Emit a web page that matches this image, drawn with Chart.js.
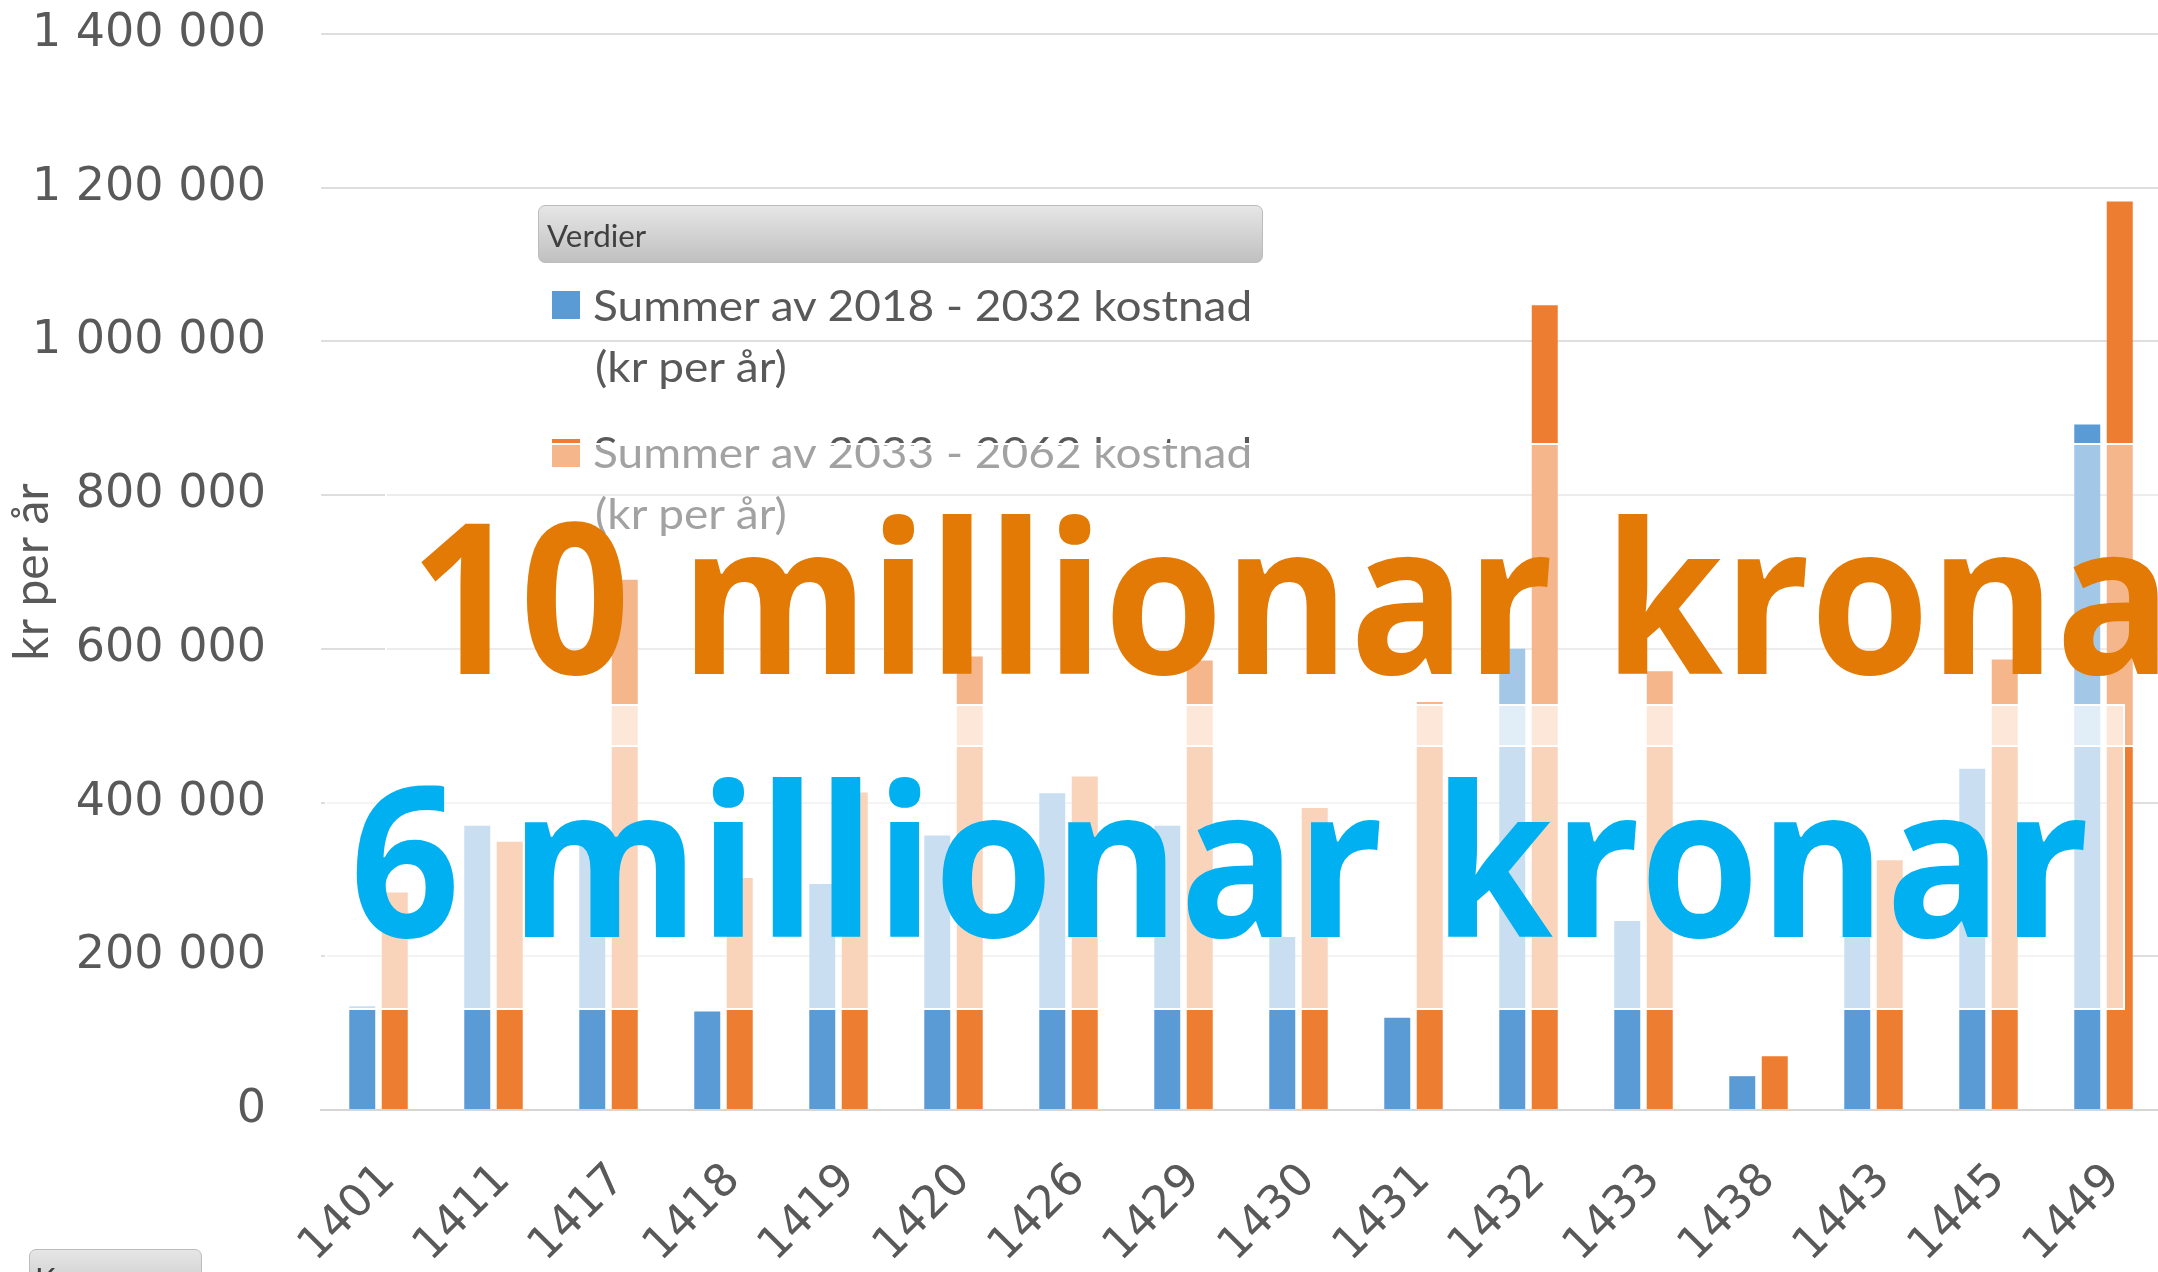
<!DOCTYPE html>
<html>
<head>
<meta charset="utf-8">
<script src="https://cdn.jsdelivr.net/npm/chart.js@4.4.1/dist/chart.umd.min.js"></script>
<style>
  html, body { margin: 0; padding: 0; overflow: hidden; background: #fff; }
  #wrap { position: relative; width: 2162px; height: 1272px; overflow: hidden; }
  #chart { position: absolute; left: 0; top: 0; }
  .txt { position: absolute; white-space: nowrap; transform-origin: 0 0; }
  .btn { position: absolute; box-sizing: border-box; border: 1px solid #bcbcbc; border-radius: 7px;
         background: linear-gradient(#e6e6e6, #c0c0c0); }
  .sw { position: absolute; }
  .box { position: absolute; box-sizing: border-box; border: 2px solid #fff; }
</style>
</head>
<body>
<div id="wrap">
  <canvas id="chart" width="2162" height="1272"></canvas>

  <!-- pivot legend -->
  <div class="btn" style="left:538px;top:205px;width:725px;height:58px"></div>
  <div id="verdier" class="txt" style="color:#3f3f3f"></div>
  <div class="sw" style="left:552px;top:291px;width:28px;height:28px;background:#5B9BD5"></div>
  <div id="leg1a" class="txt" style="color:#595959"></div>
  <div id="leg1b" class="txt" style="color:#595959"></div>
  <div class="sw" style="left:552px;top:439px;width:28px;height:28px;background:#ED7D31"></div>
  <div id="leg2a" class="txt" style="color:#595959"></div>
  <div id="leg2b" class="txt" style="color:#595959"></div>

  <!-- field button bottom left -->
  <div class="btn" style="left:29px;top:1249px;width:173px;height:60px"></div>
  <div id="field" class="txt" style="color:#3f3f3f"></div>

  <!-- slide text boxes on top of the chart -->
  <div class="box" style="left:385px;top:443px;width:1790px;height:304px;background:rgba(255,255,255,0.44)"></div>
  <div class="box" style="left:325px;top:704px;width:1800px;height:306px;background:rgba(255,255,255,0.67)"></div>
  <div id="big10" class="txt" style="color:#E27A05"></div>
  <div id="big6" class="txt" style="color:#00B0F0"></div>
</div>

<script>
// ---- data ----
const categories = ["1401", "1411", "1417", "1418", "1419", "1420", "1426", "1429",
                    "1430", "1431", "1432", "1433", "1438", "1443", "1445", "1449"];
const cost2018to2032 = [135000, 370000, 350000, 128000, 294000, 357000, 412000, 370000,
                        225000, 120000, 600000, 246000, 44000, 290000, 444000, 892000];
const cost2033to2062 = [283000, 349000, 690000, 302000, 413000, 590000, 434000, 585000,
                        393000, 531000, 1047000, 571000, 70000, 325000, 586000, 1182000];
const yTickValues = [0, 200000, 400000, 600000, 800000, 1000000, 1200000, 1400000];
const yTickLabels = ["0", "200 000", "400 000", "600 000", "800 000", "1 000 000", "1 200 000", "1 400 000"];

const seriesNames = ["Summer av 2018 - 2032 kostnad", "Summer av 2033 - 2062 kostnad"];
const unitText = "(kr per år)";

// ---- chart ----
const ctx = document.getElementById("chart").getContext("2d");
new Chart(ctx, {
  type: "bar",
  data: {
    labels: categories,
    datasets: [
      { label: seriesNames[0] + " " + unitText, data: cost2018to2032, backgroundColor: "#5B9BD5",
        categoryPercentage: 0.565, barPercentage: 0.8 },
      { label: seriesNames[1] + " " + unitText, data: cost2033to2062, backgroundColor: "#ED7D31",
        categoryPercentage: 0.565, barPercentage: 0.8 },
    ],
  },
  options: {
    responsive: false,
    animation: false,
    devicePixelRatio: 1,
    layout: { padding: { top: 34, right: 1, left: 0, bottom: 0 } },
    plugins: { legend: { display: false }, tooltip: { enabled: false } },
    scales: {
      x: {
        grid: { display: false },
        border: { display: true, color: "#d6d6d6", width: 2 },
        ticks: {
          color: "#595959",
          font: { family: "DejaVu Sans", size: 45 },
          minRotation: 45, maxRotation: 45, autoSkip: false,
          padding: 36, labelOffset: 10,
        },
        afterFit: (s) => { s.height = 162; s.paddingLeft = 0; s.paddingRight = 0; },
      },
      y: {
        min: 0, max: 1400000,
        afterBuildTicks: (s) => { s.ticks = yTickValues.map((v) => ({ value: v })); },
        grid: { color: "#dedede", lineWidth: 2, drawTicks: false },
        border: { display: false },
        ticks: {
          color: "#595959",
          font: { family: "DejaVu Sans", size: 46 },
          padding: 55,
          callback: (v) => yTickLabels[yTickValues.indexOf(v)],
        },
        title: {
          display: true, text: "kr per år", color: "#595959",
          font: { family: "Lato", size: 48 }, padding: { top: 4, bottom: 0 },
        },
        afterFit: (s) => { s.width = 321; s.paddingTop = 0; s.paddingBottom = 0; },
      },
    },
  },
});

// ---- real text pieces placed over the chart ----
const mctx = document.createElement("canvas").getContext("2d");

function measure(text, font) {
  mctx.font = font;
  return mctx.measureText(text);
}

function fitScale(text, font, width) {
  const m = measure(text, font);
  return width / (m.actualBoundingBoxLeft + m.actualBoundingBoxRight);
}

function place(id, text, font, inkLeft, baseline, scale) {
  const m = measure(text, font);
  const el = document.getElementById(id);
  el.textContent = text;
  el.style.font = font;
  el.style.lineHeight = (m.fontBoundingBoxAscent + m.fontBoundingBoxDescent) + "px";
  el.style.top = (baseline - m.fontBoundingBoxAscent) + "px";
  el.style.left = (inkLeft + m.actualBoundingBoxLeft * scale) + "px";
  el.style.transform = "scaleX(" + scale + ")";
}

// legend
const btnFont = '400 31px Lato';
place("verdier", "Verdier", btnFont, 547, 247, fitScale("Verdier", btnFont, 100));
const legFont = '400 43px Lato';
const legScale = fitScale(seriesNames[0], legFont, 658);
place("leg1a", seriesNames[0], legFont, 594, 321, legScale);
place("leg1b", unitText, legFont, 596, 382, legScale);
place("leg2a", seriesNames[1], legFont, 594, 468, legScale);
place("leg2b", unitText, legFont, 596, 529, legScale);
place("field", "Kommune", btnFont, 37, 1290, 1);

// big overlay captions
const asc6 = measure("6", '700 100px "Open Sans"').actualBoundingBoxAscent;
const bigSize = Math.round(100 * 153 / asc6);
const bigFont = '700 ' + bigSize + 'px "Open Sans"';
const bigScale = fitScale("6 millionar kronar", bigFont, 2085 - 356);
place("big6", "6 millionar kronar", bigFont, 356, 937, bigScale);
place("big10", "10 millionar kronar", bigFont, 421, 674, bigScale);
</script>
</body>
</html>
